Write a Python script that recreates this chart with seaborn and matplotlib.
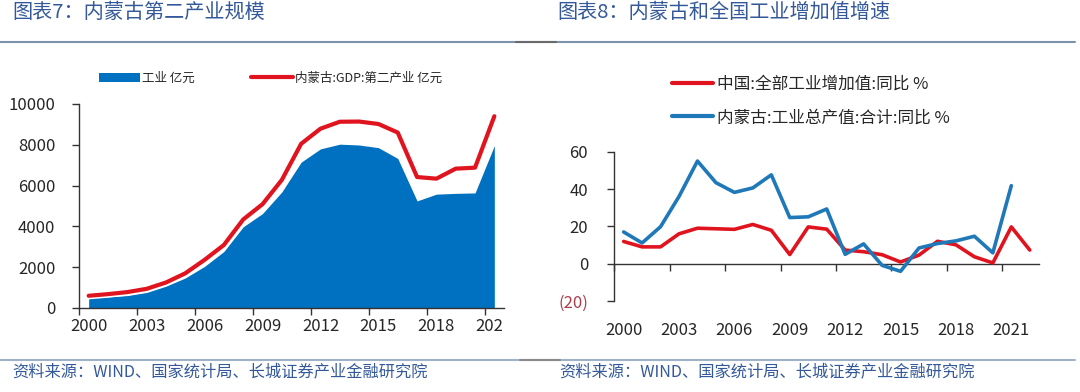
import numpy as np
import pandas as pd
import seaborn as sns
import matplotlib
matplotlib.use("Agg")
import matplotlib.pyplot as plt
from matplotlib.lines import Line2D
from matplotlib.patches import Patch
import matplotlib.patheffects as pe
from matplotlib.transforms import Bbox, TransformedBbox

# ---------------- data ----------------
years_left = list(range(2000, 2022))
industry = [500, 545, 610, 760, 1070, 1470, 2040, 2770, 3980, 4630, 5690,
            7150, 7800, 8030, 7990, 7860, 7330, 5250, 5580, 5620, 5640, 7960]
secondary_gdp = [600, 680, 780, 940, 1250, 1700, 2360, 3090, 4340, 5090, 6280,
                 8050, 8790, 9130, 9140, 9020, 8600, 6420, 6340, 6830, 6880, 9400]

years_china = list(range(2000, 2023))
china_growth = [11.9, 9.0, 9.0, 16.0, 19.0, 18.7, 18.4, 21.0, 17.9, 4.9, 19.7,
                18.5, 7.3, 6.4, 4.8, 0.9, 4.6, 12.0, 10.1, 3.7, 0.4, 19.7, 7.3]
years_nmg = list(range(2000, 2022))
nmg_growth = [17.0, 11.1, 19.8, 36.0, 55.0, 43.4, 38.2, 40.6, 47.6, 24.7, 25.1,
              29.3, 5.0, 10.6, -0.9, -4.1, 8.4, 10.8, 12.2, 14.7, 5.8, 41.8]

left_xlabels = ["2000", "2003", "2006", "2009", "2012", "2015", "2018", "2021"]
left_yticks = [0, 2000, 4000, 6000, 8000, 10000]
right_xlabels = ["2000", "2003", "2006", "2009", "2012", "2015", "2018", "2021"]
right_yticks = [-20, 0, 20, 40, 60]
right_ylabels = ["(20)", "0", "20", "40", "60"]

title_left = "图表7：内蒙古第二产业规模"
title_right = "图表8：内蒙古和全国工业增加值增速"
source_text = "资料来源：WIND、国家统计局、长城证券产业金融研究院"
lbl_industry = "工业 亿元"
lbl_gdp = "内蒙古:GDP:第二产业 亿元"
lbl_china = "中国:全部工业增加值:同比 %"
lbl_nmg = "内蒙古:工业总产值:合计:同比 %"

# ---------------- style ----------------
sns.set_theme(style="white")
plt.rcParams["font.family"] = ["Noto Sans CJK SC", "DejaVu Sans"]
plt.rcParams["axes.unicode_minus"] = False

BLUE_AREA = "#0070C0"
RED = "#E0141E"
BLUE_LINE = "#1F78B8"
TITLE_C = "#34599A"
AXIS_C = "#333333"

W, H = 1080, 392
fig = plt.figure(figsize=(W / 100, H / 100), dpi=100)


def fx(px):
    return px / W


def fy(py):
    return 1 - py / H


# ---------------- left chart ----------------
axL = fig.add_axes([fx(79), fy(308), fx(504 - 79), (308 - 104) / H])
axL.fill_between(years_left, 0, industry, color=BLUE_AREA, linewidth=0, zorder=2)
sns.lineplot(x=years_left, y=secondary_gdp, ax=axL, color=RED, linewidth=3.0,
             zorder=3, solid_joinstyle="round",
             path_effects=[pe.Stroke(linewidth=5.2, foreground="white"), pe.Normal()])
axL.set_xlim(1999.5, 2021.5)
axL.set_ylim(0, 10000)
axL.set_yticks(left_yticks)
axL.set_yticklabels([str(v) for v in left_yticks])
axL.set_xticks([1999.5 + 3 * k for k in range(8)])
axL.set_xticklabels([])
axL.set_xticks([2000 + 3 * k for k in range(8)], left_xlabels, minor=True)
axL.tick_params(axis="x", which="major", direction="out", length=5, width=1,
                color=AXIS_C, bottom=True)
axL.tick_params(axis="x", which="minor", length=0, pad=7, labelsize=12,
                bottom=True)
axL.tick_params(axis="y", direction="out", length=5, width=1, color=AXIS_C,
                left=True, pad=12, labelsize=12)
for s in ["top", "right"]:
    axL.spines[s].set_visible(False)
for s in ["left", "bottom"]:
    axL.spines[s].set_color(AXIS_C)
    axL.spines[s].set_linewidth(1)
axL.set_xlabel("")
axL.set_ylabel("")
axL.grid(False)
clip = TransformedBbox(Bbox([[0, 0], [fx(502), 1]]), fig.transFigure)
lab = axL.get_xticklabels(minor=True)[-1]
lab.set_clip_box(clip)
lab.set_clip_on(True)

handlesL = [Patch(facecolor=BLUE_AREA, edgecolor="none", label=lbl_industry),
            Line2D([0], [0], color=RED, linewidth=3.0, label=lbl_gdp)]
fig.legend(handles=handlesL, loc="center left",
           bbox_to_anchor=(fx(98.6), fy(78.3)), ncol=2, frameon=False,
           fontsize=9, borderpad=0, borderaxespad=0, handlelength=3.3,
           handleheight=0.8, handletextpad=0.2, columnspacing=4.5)

# ---------------- right chart ----------------
axR = fig.add_axes([fx(614.4), fy(301), fx(1039 - 614.4), (301 - 151.7) / H])
sns.lineplot(x=years_china, y=china_growth, ax=axR, color=RED, linewidth=2.6,
             zorder=3)
sns.lineplot(x=years_nmg, y=nmg_growth, ax=axR, color=BLUE_LINE, linewidth=2.6,
             zorder=4)
axR.set_xlim(1999.5, 2022.5)
axR.set_ylim(-20, 60)
axR.set_yticks(right_yticks)
axR.set_yticklabels(right_ylabels)
axR.get_yticklabels()[0].set_color("#A8404E")
axR.spines["bottom"].set_position(("data", 0))
axR.set_xticks([1999.5 + 3 * k for k in range(8)])
axR.tick_params(axis="x", which="major", direction="out", length=5, width=1,
                color=AXIS_C, bottom=True, labelbottom=False)
axR.tick_params(axis="y", direction="out", length=5, width=1, color=AXIS_C,
                left=True, pad=14, labelsize=12)
for s in ["top", "right"]:
    axR.spines[s].set_visible(False)
for s in ["left", "bottom"]:
    axR.spines[s].set_color(AXIS_C)
    axR.spines[s].set_linewidth(1)
axR.set_xlabel("")
axR.set_ylabel("")
axR.grid(False)
sec = axR.secondary_xaxis("bottom")
sec.set_xticks([2000 + 3 * k for k in range(8)], right_xlabels)
sec.tick_params(length=0, pad=15, labelsize=12)
sec.spines["bottom"].set_visible(False)

handlesR = [Line2D([0], [0], color=RED, linewidth=3.0, label=lbl_china),
            Line2D([0], [0], color=BLUE_LINE, linewidth=3.0, label=lbl_nmg)]
fig.legend(handles=handlesR, loc="center left",
           bbox_to_anchor=(fx(671.5), fy(100.9)), ncol=1, frameon=False,
           fontsize=12, borderpad=0, borderaxespad=0, handlelength=2.5,
           handletextpad=0.25, labelspacing=1.0)

# ---------------- titles, rules, sources ----------------
fig.text(fx(12), fy(12.5), title_left, fontsize=14.5, color=TITLE_C,
         va="center", ha="left")
fig.text(fx(557), fy(12.5), title_right, fontsize=14.5, color=TITLE_C,
         va="center", ha="left")
fig.add_artist(Line2D([0, fx(1075)], [fy(41.5), fy(41.5)], color="#7D93AC",
                      linewidth=1.5, transform=fig.transFigure))
fig.add_artist(Line2D([fx(516), fx(556)], [fy(41.5), fy(41.5)], color="#6A6A6A",
                      linewidth=1.5, transform=fig.transFigure))
fig.add_artist(Line2D([0, fx(1075)], [fy(359.5), fy(359.5)], color="#9FB2C8",
                      linewidth=1.5, transform=fig.transFigure))
fig.add_artist(Line2D([fx(520), fx(560)], [fy(359.5), fy(359.5)], color="#8A8A8A",
                      linewidth=1.5, transform=fig.transFigure))
fig.text(fx(12), fy(372), source_text, fontsize=11.7, color=TITLE_C,
         va="center", ha="left")
fig.text(fx(559), fy(372), source_text, fontsize=11.7, color=TITLE_C,
         va="center", ha="left")

fig.savefig("out.png", dpi=100, facecolor="white")
